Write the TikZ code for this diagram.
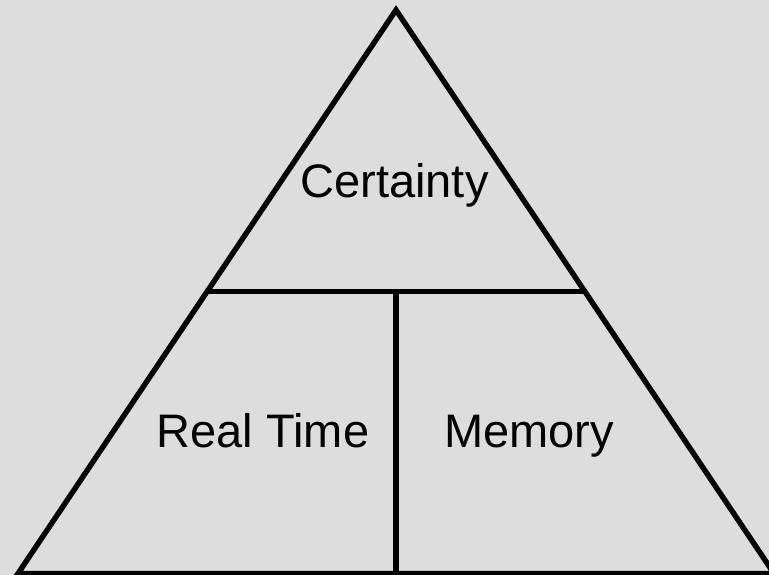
\documentclass[tikz,border=0pt]{standalone}
\usepackage{fontspec}
\setmainfont{Liberation Sans}
\definecolor{bg}{RGB}{221,221,221}
\tikzset{
  edge/.style={line width=5.4pt, draw=black, line join=miter},
  lbl/.style={anchor=base, inner sep=0pt, font=\fontsize{47}{51}\selectfont}
}
\begin{document}
\begin{tikzpicture}[x=1pt,y=1pt]
\useasboundingbox (0,0) rectangle (769,575);
\fill[bg] (0,0) rectangle (769,575);
\clip (0,0) rectangle (769,575);
\coordinate (apex) at (396,565);
\coordinate (bl) at (18,1.5);
\coordinate (br) at (774,1.5);
\coordinate (ml) at (205.5,283.5);
\coordinate (mr) at (587,283.5);
\coordinate (mc) at (396,283.5);
\coordinate (bc) at (396,1.5);
\draw[edge] (apex) -- (bl) -- (br) -- cycle;
\draw[edge] (ml) -- (mr);
\draw[edge] ([yshift=2pt]mc) -- (bc);
\node[lbl] (cert) at (394.5,377) {Certainty};
\node[lbl] (rt) at (263,127) {Real Time};
\node[lbl] (mem) at (529,127) {Memory};
\end{tikzpicture}
\end{document}
